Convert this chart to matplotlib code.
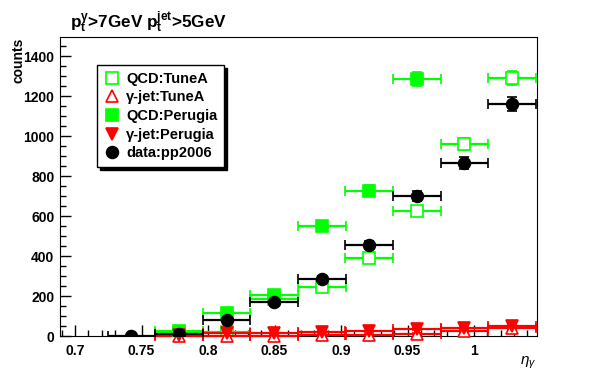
import numpy as np
import matplotlib
matplotlib.use("Agg")
from matplotlib import pyplot as plt
from matplotlib.lines import Line2D
from matplotlib.ticker import MultipleLocator

nan = np.nan

# eta_gamma bin centres and half bin width
eta = [0.7066, 0.7424, 0.7781, 0.8139, 0.8497, 0.8855, 0.9212, 0.9570, 0.9928, 1.0286]
half_w = 0.0179

qcd_tuneA = [nan, nan, 15, 22, 185, 247, 388, 623, 958, 1290]
qcd_tuneA_err = [nan, nan, 4, 5, 12, 15, 19, 24, 30, 36]
gjet_tuneA = [nan, nan, 0, 1, 2, 4, 6, 12, 25, 40]
gjet_tuneA_err = [nan, nan, 1, 1, 1, 2, 2, 3, 4, 5]
qcd_perugia = [nan, nan, 25, 115, 205, 552, 727, 1285, nan, nan]
qcd_perugia_err = [nan, nan, 5, 10, 14, 23, 27, 36, nan, nan]
gjet_perugia = [nan, nan, 5, 17, 14, 20, 23, 33, 40, 50]
gjet_perugia_err = [nan, nan, 2, 3, 3, 3, 4, 5, 5, 6]
data_pp2006 = [nan, 0, 12, 80, 172, 285, 455, 700, 865, 1160]
data_err = [nan, 0, 3.5, 9, 13, 17, 21, 26, 29, 34]

labels = ["QCD:TuneA", "\u03b3-jet:TuneA", "QCD:Perugia", "\u03b3-jet:Perugia", "data:pp2006"]

plt.rcParams['font.family'] = ['Liberation Sans', 'DejaVu Sans']
plt.rcParams['mathtext.fontset'] = 'custom'
plt.rcParams['mathtext.rm'] = 'Liberation Sans'
plt.rcParams['mathtext.bf'] = 'Liberation Sans:bold'
plt.rcParams['mathtext.it'] = 'Liberation Sans:italic'

fig = plt.figure(figsize=(5.96, 3.74), dpi=100)
ax = fig.add_axes([0.1007, 0.1016, 0.7995, 0.7994])

green = '#00ff00'
red = '#ff0000'
ms = 8.5

series = [
    (qcd_tuneA, qcd_tuneA_err, 's', green, 'none'),
    (gjet_tuneA, gjet_tuneA_err, '^', red, 'none'),
    (qcd_perugia, qcd_perugia_err, 's', green, green),
    (gjet_perugia, gjet_perugia_err, 'v', red, red),
    (data_pp2006, data_err, 'o', 'black', 'black'),
]

for i, (y, yerr, mk, col, fc) in enumerate(series):
    ax.errorbar(eta, y, yerr=yerr, xerr=half_w, fmt=mk, color=col, mfc='white' if fc == 'none' else fc,
                mec=col, ms=ms, mew=1.2, elinewidth=1.6, capsize=3.5, capthick=1.6, zorder=3 + i,
                clip_on=(mk not in ('^', 'v')))

ax.set_xlim(0.6887, 1.047)
ax.set_ylim(0, 1495)

ax.xaxis.set_major_locator(MultipleLocator(0.05))
ax.xaxis.set_minor_locator(MultipleLocator(0.01))
ax.yaxis.set_major_locator(MultipleLocator(200))
ax.yaxis.set_minor_locator(MultipleLocator(50))
ax.tick_params(which='both', direction='in', top=False, right=False, width=1)
ax.tick_params(which='major', length=8, labelsize=10)
ax.tick_params(axis='y', pad=4)
ax.tick_params(axis='x', pad=6)
ax.tick_params(which='minor', length=4)
ax.set_xticks([0.7, 0.75, 0.8, 0.85, 0.9, 0.95, 1.0])
ax.set_xticklabels(['0.7', '0.75', '0.8', '0.85', '0.9', '0.95', '1'])
for lab in ax.get_xticklabels() + ax.get_yticklabels():
    lab.set_fontweight('bold')

fig.text(0.031, 0.9, 'counts', rotation=90, ha='center', va='top', fontsize=10, fontweight='bold')
fig.text(0.9, 0.008, r'$\eta_{\gamma}$', ha='right', va='bottom', fontsize=11)
fig.text(0.118, 0.94, r'$\mathbf{p_{t}^{\gamma}}$>7GeV $\mathbf{p_{t}^{jet}}$>5GeV',
         ha='left', va='center', fontsize=12.3, fontweight='bold')

handles = []
for (y, yerr, mk, col, fc), lab in zip(series, labels):
    handles.append(Line2D([], [], ls='none', marker=mk, color=col,
                          mfc='white' if fc == 'none' else fc, mec=col, ms=ms, mew=1.2))
leg = ax.legend(handles, labels, loc='upper left', bbox_to_anchor=(0.078, 0.906),
                borderaxespad=0, frameon=True, fancybox=False,
                shadow={'color': 'black', 'alpha': 1},
                edgecolor='black', framealpha=1, borderpad=0.45, labelspacing=0.32,
                handlelength=1.1, handletextpad=0.45, prop={'weight': 'bold', 'size': 10.5})
leg.get_frame().set_linewidth(1.0)
leg.set_zorder(20)

fig.savefig('out.png', dpi=100)
